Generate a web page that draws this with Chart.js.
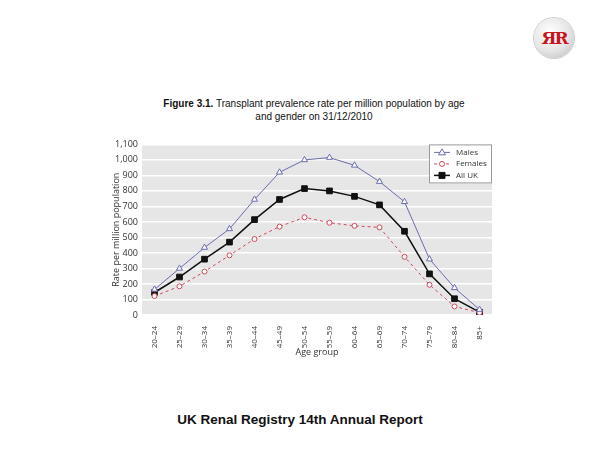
<!DOCTYPE html>
<html>
<head>
<meta charset="utf-8">
<script src="https://cdn.jsdelivr.net/npm/chart.js@4"></script>
<style>
  body { margin: 0; width: 600px; height: 450px; background: #fff; position: relative; font-family: "Liberation Sans", Arial, sans-serif; overflow: hidden; }
  #title { position: absolute; left: 0; width: 628px; top: 97px; text-align: center; font-size: 10px; line-height: 13px; color: #111; }
  #footer { position: absolute; left: 0; width: 600px; top: 412px; text-align: center; font-size: 13.5px; font-weight: bold; color: #111; }
  #logo { position: absolute; left: 534px; top: 18px; width: 40px; height: 40px; border-radius: 50%;
          background: radial-gradient(circle at 40% 35%, #fff 0%, #e4e4e4 55%, #b8b8b8 100%);
          box-shadow: 0 0 0 1px #ccc; text-align: center; line-height: 40px;
          font-family: "DejaVu Serif", serif; font-weight: bold; font-size: 17px; color: #c8161d; letter-spacing: -2px; }
  #wrap { position: absolute; left: 100px; top: 135px; width: 400px; height: 225px; }
</style>
</head>
<body>
<div id="logo">ЯR</div>
<div id="title"><b>Figure 3.1.</b> Transplant prevalence rate per million population by age<br>and gender on 31/12/2010</div>
<div id="wrap"><canvas id="myChart"></canvas></div>
<div id="footer">UK Renal Registry 14th Annual Report</div>
<script>
const ageGroups = ['20–24', '25–29', '30–34', '35–39', '40–44', '45–49', '50–54', '55–59', '60–64', '65–69', '70–74', '75–79', '80–84', '85+'];
const males = [165, 300, 435, 555, 745, 920, 1000, 1015, 965, 860, 730, 360, 175, 35];
const females = [122, 185, 280, 385, 490, 570, 630, 595, 575, 565, 375, 195, 55, 15];
const allUK = [145, 245, 360, 470, 615, 745, 815, 800, 765, 710, 540, 265, 105, 18];
const yTicks = [0, 100, 200, 300, 400, 500, 600, 700, 800, 900, 1000, 1100];

const tickFont = { family: 'Open Sans', size: 9 };

const plotBg = {
    id: 'plotBg',
    beforeDraw(chart) {
        const { ctx, chartArea: a } = chart;
        ctx.save();
        ctx.fillStyle = '#e6e6e6';
        ctx.fillRect(a.left, a.top, a.right - a.left, a.bottom - a.top);
        ctx.restore();
    }
};

// legend box drawn inside the plot, top right
const boxLegend = {
    id: 'boxLegend',
    afterDatasetsDraw(chart) {
        const { ctx, chartArea: a } = chart;
        const w = 63, h = 39;
        const x = a.right - w, y = a.top;
        ctx.save();
        ctx.fillStyle = '#fff';
        ctx.fillRect(x, y, w, h);
        ctx.strokeStyle = '#999';
        ctx.lineWidth = 1;
        ctx.strokeRect(x + 0.5, y + 0.5, w - 1, h - 1);
        chart.data.datasets.forEach((ds, i) => {
            const cy = y + 8 + i * 11.5;
            const mx = x + 13;
            ctx.strokeStyle = ds.borderColor;
            ctx.lineWidth = ds.borderWidth;
            ctx.setLineDash(ds.borderDash || []);
            ctx.beginPath();
            ctx.moveTo(x + 5, cy);
            ctx.lineTo(x + 21, cy);
            ctx.stroke();
            ctx.setLineDash([]);
            const r = ds.pointRadius;
            ctx.fillStyle = ds.pointBackgroundColor;
            ctx.strokeStyle = ds.borderColor;
            ctx.lineWidth = 1;
            ctx.beginPath();
            if (ds.pointStyle === 'triangle') {
                ctx.moveTo(mx, cy - r);
                ctx.lineTo(mx + r, cy + r * 0.7);
                ctx.lineTo(mx - r, cy + r * 0.7);
                ctx.closePath();
            } else if (ds.pointStyle === 'rect') {
                ctx.rect(mx - r * 0.75, cy - r * 0.75, r * 1.5, r * 1.5);
            } else {
                ctx.arc(mx, cy, r, 0, Math.PI * 2);
            }
            ctx.fill();
            ctx.stroke();
            ctx.fillStyle = '#333';
            ctx.font = '8px "Open Sans"';
            ctx.textBaseline = 'middle';
            ctx.fillText(ds.label, x + 27, cy);
        });
        ctx.restore();
    }
};

new Chart(document.getElementById('myChart').getContext('2d'), {
    type: 'line',
    data: {
        labels: ageGroups,
        datasets: [{
            label: 'Males',
            data: males,
            borderColor: '#6a6db0',
            borderWidth: 1,
            pointStyle: 'triangle',
            pointRadius: 3.5,
            pointBackgroundColor: '#fff',
            pointBorderWidth: 1,
            tension: 0
        }, {
            label: 'Females',
            data: females,
            borderColor: '#d0495c',
            borderWidth: 1,
            borderDash: [3, 3],
            pointStyle: 'circle',
            pointRadius: 2.5,
            pointBackgroundColor: '#fff',
            pointBorderWidth: 1,
            tension: 0
        }, {
            label: 'All UK',
            data: allUK,
            borderColor: '#111',
            borderWidth: 1.5,
            pointStyle: 'rect',
            pointRadius: 4,
            pointBackgroundColor: '#111',
            pointBorderWidth: 1,
            tension: 0
        }]
    },
    options: {
        responsive: true,
        maintainAspectRatio: false,
        animation: false,
        layout: { padding: { top: 8, right: 8, left: 0, bottom: 0 } },
        scales: {
            x: {
                offset: true,
                grid: { display: false },
                border: { display: false },
                ticks: { color: '#333', font: { family: 'Open Sans', size: 8 }, maxRotation: 90, minRotation: 90, padding: 3 },
                title: { display: true, text: 'Age group', color: '#333', font: { family: 'Open Sans', size: 9 }, padding: { top: 0, bottom: 2 } },
                afterFit(scale) { scale.height = 45; }
            },
            y: {
                min: 0,
                max: 1100,
                afterBuildTicks(scale) { scale.ticks = yTicks.map(v => ({ value: v })); },
                grid: { color: '#fff', lineWidth: 1.5, drawTicks: false },
                border: { display: false },
                ticks: {
                    color: '#333', font: tickFont, padding: 4,
                    callback: v => v.toLocaleString('en-US')
                },
                title: { display: true, text: 'Rate per million population', color: '#333', font: { family: 'Open Sans', size: 9 }, padding: { top: 11, bottom: 0 } },
                afterFit(scale) { scale.width = 42; }
            }
        },
        plugins: {
            legend: { display: false },
            tooltip: { enabled: false }
        }
    },
    plugins: [plotBg, boxLegend]
});
</script>
</body>
</html>
